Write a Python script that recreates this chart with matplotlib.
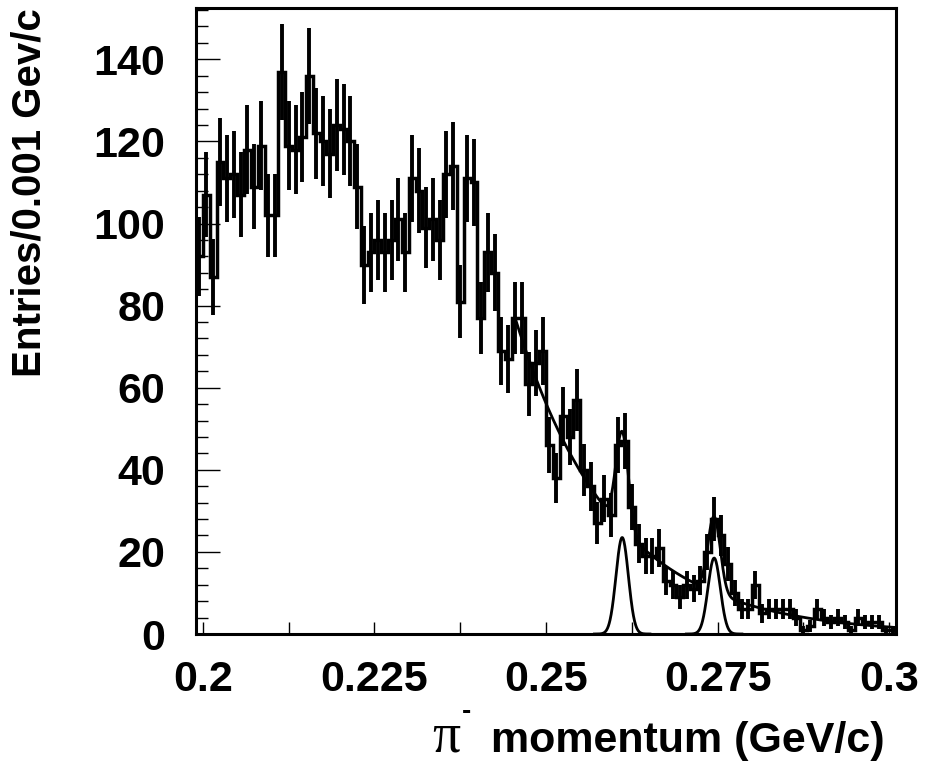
import numpy as np
import matplotlib
matplotlib.use("Agg")
import matplotlib.pyplot as plt
from matplotlib.ticker import FixedLocator, MultipleLocator

# histogram: 0.001 GeV/c bins from 0.199 to 0.301
bin_lo, bin_hi, bin_w = 0.199, 0.301, 0.001
counts = [
    92, 107, 87, 115, 111, 112, 107, 118, 109, 119,
    102, 102, 137, 119, 118, 121, 136, 122, 120, 117,
    124, 123, 120, 109, 90, 93, 96, 93, 96, 101,
    93, 111, 108, 99, 101, 96, 112, 114, 81, 111,
    110, 77, 93, 88, 69, 67, 77, 77, 61, 66,
    69, 46, 38, 53, 48, 57, 40, 36, 27, 33,
    29, 46, 47, 31, 22, 19, 19, 21, 13, 12,
    9, 12, 11, 13, 20, 28, 24, 17, 10, 6,
    6, 12, 5, 6, 6, 6, 6, 4, 1, 2,
    6, 4, 3, 4, 3, 1, 4, 3, 3, 3,
    1, 1,
]

# fit: exponential background + two gaussians
bg_amp, bg_x0, bg_slope = 77.0, 0.2455, 70.0
fit_start = 0.2455
peak_means = [0.2611, 0.2745]
peak_amps = [23.5, 18.5]
peak_sigmas = [0.0009, 0.0009]

xticks = [0.2, 0.225, 0.25, 0.275, 0.3]
xtick_labels = ["0.2", "0.225", "0.25", "0.275", "0.3"]
yticks = [0, 20, 40, 60, 80, 100, 120, 140]

plt.rcParams["font.family"] = ["Liberation Sans", "DejaVu Sans"]
plt.rcParams["font.weight"] = "bold"

fig = plt.figure(figsize=(9.25, 7.65), dpi=100)
ax = fig.add_axes([196 / 925, 131 / 765, 700 / 925, 626 / 765])

counts = np.array(counts, dtype=float)
edges = bin_lo + bin_w * np.arange(len(counts) + 1)
centers = 0.5 * (edges[:-1] + edges[1:])

ax.stairs(counts, edges, color="k", lw=2.5, baseline=None)
ax.errorbar(centers, counts, yerr=np.sqrt(counts), fmt="none",
            ecolor="k", elinewidth=2.8, capsize=0)


def gauss(x, a, m, s):
    return a * np.exp(-0.5 * ((x - m) / s) ** 2)


xf = np.linspace(fit_start, bin_hi, 800)
total = bg_amp * np.exp(-bg_slope * (xf - bg_x0))
for a, m, s in zip(peak_amps, peak_means, peak_sigmas):
    total = total + gauss(xf, a, m, s)
ax.plot(xf, total, color="k", lw=2.0)

for a, m, s in zip(peak_amps, peak_means, peak_sigmas):
    xg = np.linspace(m - 4.5 * s, m + 4.5 * s, 200)
    ax.plot(xg, gauss(xg, a, m, s), color="k", lw=2.0)

ax.set_xlim(bin_lo, bin_hi)
ax.set_ylim(0, 152.5)

ax.xaxis.set_major_locator(FixedLocator(xticks))
ax.set_xticklabels(xtick_labels)
ax.xaxis.set_minor_locator(FixedLocator([0.2125, 0.2375, 0.2625, 0.2875]))
ax.yaxis.set_major_locator(FixedLocator(yticks))
ax.yaxis.set_minor_locator(MultipleLocator(4))

ax.tick_params(axis="x", which="both", direction="in", length=9, width=1.0,
               labelsize=31, pad=19, top=False)
ax.tick_params(axis="y", which="major", direction="in", length=17, width=1.0,
               labelsize=31, pad=22, right=False)
ax.tick_params(axis="y", which="minor", direction="in", length=8.5, width=1.0,
               right=False)
for lab in ax.get_xticklabels() + ax.get_yticklabels():
    lab.set_fontweight("bold")

for sp in ax.spines.values():
    sp.set_linewidth(2.2)

fig.text(30 / 925, 1 - 8 / 765, "Entries/0.001 Gev/c", rotation=90,
         ha="center", va="top", fontsize=29, fontweight="bold")

# x title: serif pi, small superscript minus, then bold text
fig.canvas.draw()
renderer = fig.canvas.get_renderer()
base_y = (765 - 752) / 765
t = fig.text(885 / 925, base_y, "momentum (GeV/c)", ha="right", va="baseline",
             fontsize=31, fontweight="bold")
bb = t.get_window_extent(renderer)
fig.text((bb.x0 - 31) / 925, base_y, "\u03c0", ha="right", va="baseline",
         fontsize=40, family="Liberation Serif", fontweight="normal")
fig.text((bb.x0 - 25) / 925, base_y + 33 / 765, "-", ha="center",
         va="baseline", fontsize=20, fontweight="bold")

fig.savefig("out.png", dpi=100)
